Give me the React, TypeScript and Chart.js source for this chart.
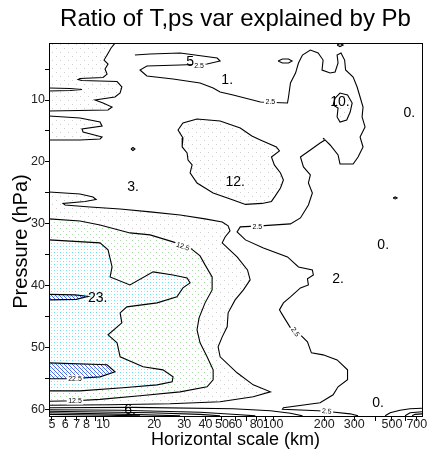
import React, { useEffect, useRef } from 'react';
import { Chart, registerables } from 'chart.js';

Chart.register(...registerables);

type P = [number, number];

const FONT = '"Liberation Sans", Arial, Helvetica, sans-serif';

const titleText = 'Ratio of T,ps var explained by Pb';
const xTitle = 'Horizontal scale (km)';
const yTitle = 'Pressure (hPa)';

const xRange = [4.81, 751];
const yRange = [0.8, 61];
const xTickValues = [5, 6, 7, 8, 9, 10, 20, 30, 40, 50, 60, 70, 80, 90, 100, 200, 300, 400, 500, 600, 700];
const xTickLabels = [5, 6, 7, 8, 10, 20, 30, 40, 50, 60, 80, 100, 200, 300, 500, 700];
const yTickValues = [5, 10, 15, 20, 25, 30, 35, 40, 45, 50, 55, 60];
const yTickLabels = [10, 20, 30, 40, 50, 60];

// ---- contour lines (km, hPa level) ----
const contour25Main: P[] = [
  [15.4, 2.74], [18.9, 2.58], [28.4, 2.42], [46.9, 3.23], [48.8, 3.71], [40.9, 4.19], [28.4, 4.35],
  [18.1, 4.52], [16.5, 5.16], [18.1, 6.13], [25.8, 6.61], [37.2, 7.26], [44.4, 8.06], [48.8, 8.71],
  [58.2, 9.19], [84.2, 10.32], [121.5, 10.48], [123.2, 9.52], [126.5, 7.26], [135.5, 5.65], [141, 4.03],
  [148.8, 2.74], [165.6, 1.94], [184, 2.42], [196.8, 3.55], [194, 5.16], [216.5, 5.65], [231.6, 5.48],
  [241, 4.03], [237.9, 2.74], [250.8, 2.42], [263.4, 3.55], [266.9, 5.16], [295.6, 6.29], [312, 7.9],
  [324.7, 9.52], [338, 11.13], [333.6, 12.74], [347.3, 14.35], [324.7, 15.97], [338, 17.58], [316, 19.19],
  [295.6, 20.32], [247.4, 20.32], [241, 18.87], [216.5, 17.26], [202, 16.45], [189, 16.94], [165.6, 18.06],
  [144.8, 19.19], [150.8, 20.81], [165.6, 22.1], [161.3, 23.39], [170.2, 25.0], [161.3, 26.94],
  [144.8, 29.03], [126.5, 30.0], [84.2, 30.32], [64.1, 30.48], [61.4, 31.29], [68.8, 32.58], [87.7, 33.87],
  [121.5, 35.32], [141, 36.94], [170.2, 37.42], [172.5, 38.23], [159.2, 38.87], [161.3, 39.84],
  [144.8, 40.32], [126.5, 41.77], [115, 42.74], [109, 43.87], [113.5, 44.68], [126.5, 46.77],
  [144.8, 47.9], [159.2, 49.03], [168, 50.81], [196.8, 51.13], [237.9, 51.94], [274, 53.55], [274, 55.16],
  [241, 56.29], [225.4, 57.58], [189, 58.87], [115, 59.68], [113.5, 59.92], [184, 60.16], [216.5, 60.32],
  [284, 60.65], [316, 60.97],
];

const contour75TopLeft: P[] = [
  [11.76, 0.81], [11.15, 1.61], [10.56, 2.74], [10.14, 3.55], [10.7, 4.19], [10.27, 5.0], [10.56, 5.81],
  [10.0, 6.37], [7.32, 6.53], [7.13, 6.69], [7.52, 6.85], [12.09, 7.02], [12.9, 7.9], [12.6, 8.87],
  [11.76, 9.52], [8.97, 10.0], [10.0, 10.48], [11.3, 11.13], [10.7, 11.61], [4.81, 11.77],
];
const contour75Tongue1: P[] = [[4.81, 8.06], [6.39, 8.15], [7.52, 8.31], [6.39, 8.47], [4.81, 8.55]];
const contour75Tongue2: P[] = [
  [4.81, 12.58], [7.32, 12.9], [9.6, 13.55], [9.87, 14.19], [7.52, 14.68], [7.63, 15.16], [9.87, 15.97],
  [9.6, 16.29], [7.32, 16.45], [4.81, 16.45],
];
const contour75Lower: P[] = [
  [4.81, 24.84], [7.32, 25.16], [8.73, 25.65], [9.1, 26.05], [7.84, 26.37], [5.82, 26.69], [5.98, 26.94],
  [8.38, 27.26], [12.6, 27.58], [18.9, 28.06], [28.4, 28.55], [39.8, 29.19], [50.2, 29.68], [54.4, 30.32],
  [55.8, 31.13], [52.2, 32.1], [50.2, 33.06], [61.4, 35.32], [70.7, 37.42], [73.3, 39.03], [66.9, 40.65],
  [59.8, 42.26], [54.4, 44.35], [53.7, 46.61], [50.2, 48.23], [47.5, 49.84], [48.8, 51.45], [61.4, 54.03],
  [76.4, 55.97], [96.4, 57.1], [76.4, 57.9], [48.8, 58.71], [24.8, 59.03], [11.0, 59.19], [4.81, 59.27],
];
const contour125: P[] = [
  [4.81, 29.19], [7.32, 29.52], [9.6, 30.16], [14.4, 31.45], [18.9, 31.77], [25.8, 32.9], [32.5, 33.87],
  [37.2, 35.16], [39.8, 36.61], [43.8, 38.55], [43.8, 40.65], [39.8, 42.74], [36.7, 45.16], [35.7, 47.1],
  [37.2, 49.19], [40.9, 51.45], [44.4, 53.55], [44.4, 55.16], [40.9, 56.29], [28.4, 57.1], [16.5, 57.74],
  [9.6, 58.31], [6.84, 58.55], [4.81, 58.63],
];
const contour175: P[] = [
  [4.81, 32.58], [9.6, 33.06], [10.7, 34.19], [11.3, 36.94], [11.0, 38.55], [14.4, 39.84], [19.7, 37.74],
  [25.8, 38.23], [31.2, 38.71], [32.5, 39.52], [29.5, 40.32], [27.2, 41.77], [20.8, 42.74], [13.8, 43.39],
  [12.6, 44.35], [12.9, 45.97], [10.7, 47.9], [12.09, 49.19], [12.6, 51.45], [17.2, 53.06], [22.5, 53.55],
  [25.8, 54.68], [25.5, 55.48], [20.8, 55.97], [13.1, 56.45], [7.32, 56.94], [4.81, 56.94],
];
const contour225a: P[] = [[4.81, 41.37], [6.84, 41.45], [8.16, 41.69], [6.95, 42.18], [4.81, 42.26]];
const contour225b: P[] = [
  [4.81, 52.42], [10.56, 52.74], [11.76, 53.87], [9.6, 54.68], [6.39, 55.0], [4.81, 55.0],
];
const blob12: P[] = [
  [35.7, 13.06], [29.5, 13.71], [27.6, 14.84], [29.5, 16.13], [29.2, 17.58], [31.2, 18.55], [31.6, 19.68],
  [33.4, 20.48], [32.5, 21.77], [35.7, 23.39], [44.4, 25.0], [58.2, 26.13], [68.8, 26.85], [86, 26.69],
  [97.8, 26.37], [103, 25.48], [110.5, 24.19], [115, 22.9], [110.5, 21.77], [101.7, 20.48], [97.8, 19.19],
  [109, 18.23], [104.5, 17.58], [84.2, 16.45], [75, 15.81], [64.1, 14.52], [48.8, 13.39], [35.7, 13.06],
];
const loop10: P[] = [
  [231.6, 9.68], [247.4, 8.87], [274, 9.19], [291.7, 10.48], [284, 11.94], [271, 13.23], [247.4, 13.55],
  [237.9, 12.74], [241, 11.29], [225.4, 10.81], [231.6, 9.68],
];
const smallLoops: P[][] = [
  [[107, 3.71], [113.5, 3.39], [123.2, 3.39], [129.3, 3.71], [123.2, 4.03], [113.5, 4.03], [107, 3.71]],
  [[237.9, 1.13], [247.4, 0.89], [258, 1.13], [247.4, 1.37], [237.9, 1.13]],
  [[14.6, 17.9], [15.0, 17.66], [15.4, 17.9], [15.0, 18.15], [14.6, 17.9]],
  [[508, 25.81], [522.6, 25.65], [536, 25.81], [522.6, 25.97], [508, 25.81]],
  [[196.8, 16.13], [199, 16.3]],
];
const bottomBand: P[][] = [
  [[4.81, 59.68], [15.0, 59.6], [58.2, 59.84], [96.4, 60.16], [126.5, 60.56], [148.8, 60.97]],
  [[4.81, 60.0], [12.6, 60.08], [37.2, 60.4], [64.1, 60.81], [78.6, 60.97]],
  [[4.81, 60.24], [18.9, 60.48], [37.2, 60.73], [48.8, 60.97]],
  [[4.81, 60.48], [14.4, 60.73], [28.4, 60.97]],
  [[4.81, 60.73], [11.0, 60.89], [16.5, 60.97]],
  [[456, 60.97], [488, 60.48], [558, 60.08], [639, 59.84], [751, 59.76]],
  [[597, 60.97], [639, 60.48], [751, 60.32]],
  [[657, 60.97], [683, 60.73], [751, 60.65]],
];

// ---- labels ----
const extremaLabels: [string, number, number][] = [
  ['5', 32.5, 3.87], ['1.', 53.7, 6.77], ['10.', 247, 10.32], ['0.', 632, 12.1], ['12.', 59.8, 23.23],
  ['3.', 15.0, 24.03], ['0.', 444, 33.39], ['2.', 241, 38.87], ['23.', 9.3, 41.94], ['0.', 414, 58.87],
  ['6.', 14.4, 60.0],
];
const contourLabels: [string, number, number, number][] = [
  ['2.5', 36.7, 4.52, 0], ['2.5', 96.4, 10.32, 0], ['2.5', 80.7, 30.48, 0], ['2.5', 135.5, 47.42, 55],
  ['2.5', 207, 60.2, 5], ['12.5', 29.5, 33.6, 20], ['22.5', 6.84, 55.0, 0], ['12.5', 6.84, 58.58, 0],
];

function makePattern(size: number, draw: (g: CanvasRenderingContext2D) => void): CanvasPattern | string {
  const c = document.createElement('canvas');
  c.width = size;
  c.height = size;
  const g = c.getContext('2d');
  if (!g) return '#fff';
  g.fillStyle = '#ffffff';
  g.fillRect(0, 0, size, size);
  draw(g);
  return g.createPattern(c, 'repeat') || '#fff';
}

const toXY = (pts: P[]) => pts.map(([x, y]) => ({ x, y }));

export default function App() {
  const ref = useRef<HTMLCanvasElement | null>(null);

  useEffect(() => {
    if (!ref.current) return;
    const grey = makePattern(8, (g) => {
      g.fillStyle = 'rgba(205,205,205,1)';
      g.fillRect(0, 0, 1, 1);
      g.fillRect(4, 4, 1, 1);
    });
    const green = makePattern(6, (g) => {
      g.fillStyle = 'rgba(165,220,165,1)';
      g.fillRect(0, 0, 1, 1);
      g.fillRect(3, 3, 1, 1);
    });
    const cyan = makePattern(6, (g) => {
      g.fillStyle = 'rgba(110,220,235,1)';
      g.fillRect(0, 0, 1, 1);
      g.fillRect(3, 3, 1, 1);
      g.fillStyle = 'rgba(175,235,240,1)';
      g.fillRect(3, 0, 1, 1);
      g.fillRect(0, 3, 1, 1);
    });
    const blue = makePattern(4, (g) => {
      g.fillStyle = 'rgba(140,225,240,1)';
      g.fillRect(2, 0, 1, 1);
      g.fillStyle = 'rgba(95,95,235,1)';
      g.fillRect(0, 0, 1, 1);
      g.fillRect(1, 1, 1, 1);
      g.fillRect(2, 2, 1, 1);
      g.fillRect(3, 3, 1, 1);
    });

    const area = (pts: P[], bg: any, order: number) => ({
      data: toXY(pts),
      borderWidth: 0,
      borderColor: 'rgba(0,0,0,0)',
      backgroundColor: bg,
      pointRadius: 0,
      fill: 'shape',
      order,
    });
    const line = (pts: P[]) => ({
      data: toXY(pts),
      borderWidth: 1.1,
      borderColor: '#000',
      pointRadius: 0,
      fill: false,
      order: 0,
    });

    const datasets: any[] = [
      area([...contour75TopLeft, [xRange[0], yRange[0]]], grey, 20),
      area(contour75Tongue1, '#ffffff', 19),
      area(contour75Tongue2, grey, 19),
      area(contour75Lower, grey, 18),
      area(contour125, green, 17),
      area(contour175, cyan, 16),
      area(contour225a, blue, 15),
      area(contour225b, blue, 15),
      area(blob12, grey, 18),
      area(loop10, grey, 18),
      line(contour25Main),
      line(contour75TopLeft),
      line(contour75Tongue1),
      line(contour75Tongue2),
      line(contour75Lower),
      line(contour125),
      line(contour175),
      line(contour225a),
      line(contour225b),
      line(blob12),
      line(loop10),
      ...smallLoops.map(line),
      ...bottomBand.map(line),
    ];

    const labelPlugin = {
      id: 'contourText',
      afterDatasetsDraw(chart: any) {
        const { ctx, chartArea, scales } = chart;
        const xs = scales.x;
        const ys = scales.y;
        ctx.save();
        ctx.beginPath();
        ctx.rect(chartArea.left, chartArea.top, chartArea.right - chartArea.left, chartArea.bottom - chartArea.top);
        ctx.clip();
        ctx.font = `7px ${FONT}`;
        ctx.textAlign = 'center';
        ctx.textBaseline = 'middle';
        for (const [t, kx, ly, ang] of contourLabels) {
          const px = xs.getPixelForValue(kx);
          const py = ys.getPixelForValue(ly);
          ctx.save();
          ctx.translate(px, py);
          ctx.rotate((ang * Math.PI) / 180);
          const w = ctx.measureText(t).width;
          ctx.fillStyle = '#fff';
          ctx.fillRect(-w / 2 - 1.5, -3.5, w + 3, 7);
          ctx.fillStyle = '#000';
          ctx.fillText(t, 0, 0.5);
          ctx.restore();
        }
        ctx.font = `14px ${FONT}`;
        ctx.fillStyle = '#000';
        for (const [t, kx, ly] of extremaLabels) {
          ctx.fillText(t, xs.getPixelForValue(kx), ys.getPixelForValue(ly));
        }
        ctx.restore();
        ctx.save();
        ctx.strokeStyle = '#000';
        ctx.lineWidth = 1;
        ctx.strokeRect(
          Math.round(chartArea.left) + 0.5,
          Math.round(chartArea.top) + 0.5,
          Math.round(chartArea.right - chartArea.left),
          Math.round(chartArea.bottom - chartArea.top)
        );
        ctx.restore();
      },
      afterDraw(chart: any) {
        const { ctx, chartArea } = chart;
        ctx.save();
        ctx.translate(21, (chartArea.top + chartArea.bottom) / 2 + 12);
        ctx.rotate(-Math.PI / 2);
        ctx.font = `20px ${FONT}`;
        ctx.fillStyle = '#000';
        ctx.textAlign = 'center';
        ctx.textBaseline = 'middle';
        ctx.fillText(yTitle, 0, 0);
        ctx.restore();
      },
    };

    const chart = new Chart(ref.current, {
      type: 'line',
      data: { datasets },
      plugins: [labelPlugin],
      options: {
        animation: false,
        responsive: false,
        events: [],
        layout: { padding: { left: 0, right: 10, top: 0, bottom: 0 } },
        plugins: {
          legend: { display: false },
          tooltip: { enabled: false },
          title: {
            display: true,
            text: titleText,
            fullSize: false,
            color: '#000',
            font: { family: FONT, size: 24, weight: 'normal', lineHeight: 1.2 },
            padding: { top: 5, bottom: 9.2 },
          },
        },
        scales: {
          x: {
            type: 'logarithmic',
            min: xRange[0],
            max: xRange[1],
            afterBuildTicks: (s: any) => {
              s.ticks = xTickValues.map((v) => ({ value: v }));
            },
            afterFit: (s: any) => {
              s.height = 41;
            },
            ticks: {
              autoSkip: false,
              maxRotation: 0,
              minRotation: 0,
              padding: -4,
              color: '#222',
              font: { family: FONT, size: 12.5 },
              callback: (v: any) => (xTickLabels.includes(Number(v)) ? String(v) : ''),
            },
            grid: { drawOnChartArea: false, drawTicks: true, tickLength: 5, color: '#000' },
            border: { display: true, color: '#000' },
            title: {
              display: true,
              text: xTitle,
              color: '#000',
              font: { family: FONT, size: 18, lineHeight: 1.2 },
              padding: { top: 0, bottom: 6 },
            },
          },
          y: {
            type: 'linear',
            reverse: true,
            min: yRange[0],
            max: yRange[1],
            afterBuildTicks: (s: any) => {
              s.ticks = yTickValues.map((v) => ({ value: v }));
            },
            afterFit: (s: any) => {
              s.width = 49;
            },
            ticks: {
              autoSkip: false,
              padding: 0,
              color: '#222',
              font: { family: FONT, size: 12.5 },
              callback: (v: any) => (yTickLabels.includes(Number(v)) ? String(v) : ''),
            },
            grid: { drawOnChartArea: false, drawTicks: true, tickLength: 4, color: '#000' },
            border: { display: true, color: '#000' },
            title: { display: false },
          },
        },
      } as any,
    });
    return () => chart.destroy();
  }, []);

  return (
    <div style={{ position: 'fixed', left: 0, top: 0, width: 432, height: 457, background: '#fff' }}>
      <canvas ref={ref} width={432} height={457} style={{ display: 'block', width: 432, height: 457 }} />
    </div>
  );
}
